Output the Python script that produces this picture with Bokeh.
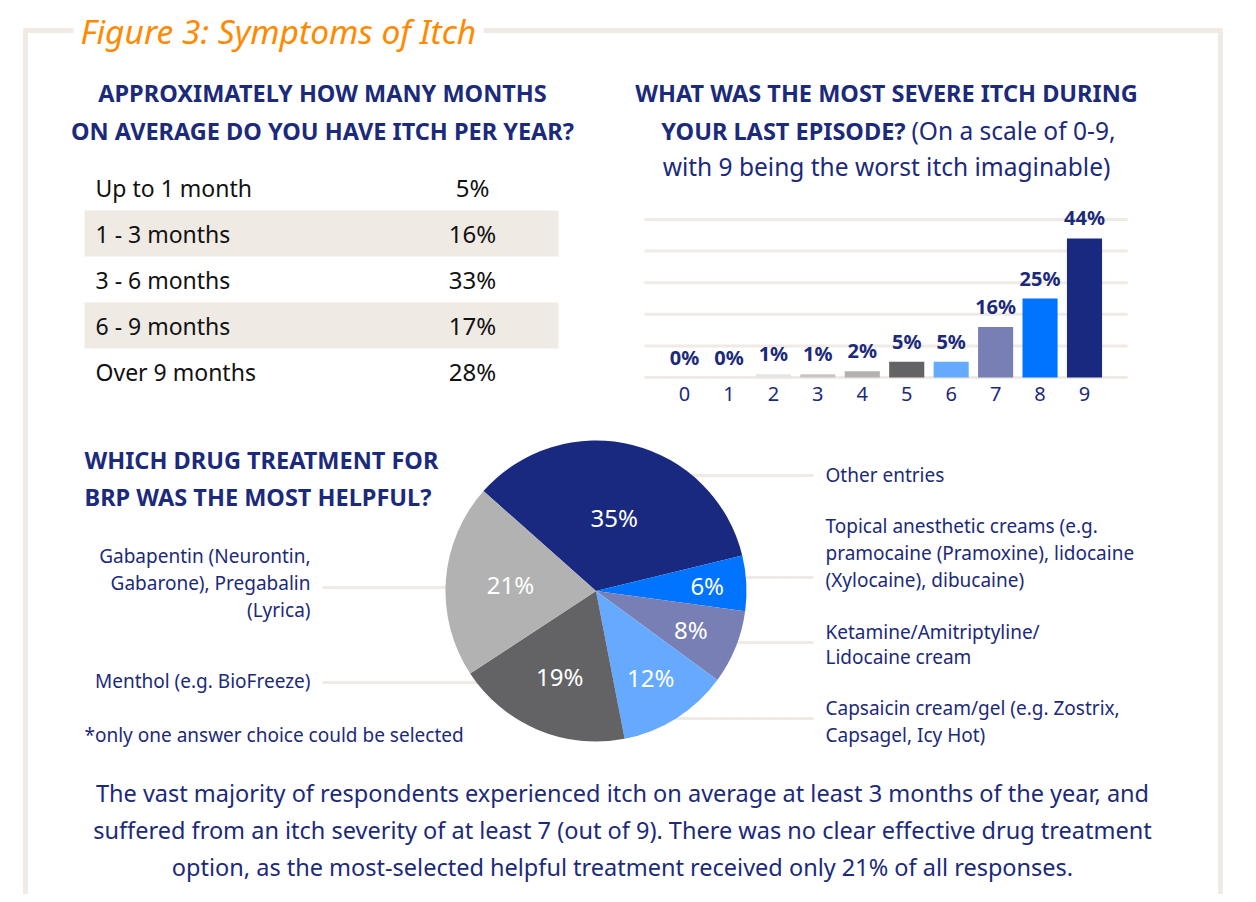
import math
from bokeh.plotting import figure
from bokeh.models import Range1d
from bokeh.embed import file_html
from bokeh.resources import INLINE
from bokeh.core.properties import value

# ---------------- data ----------------
month_labels = ["Up to 1 month", "1 - 3 months", "3 - 6 months", "6 - 9 months", "Over 9 months"]
month_pct = [5, 16, 33, 17, 28]

severity_levels = [0, 1, 2, 3, 4, 5, 6, 7, 8, 9]
severity_pct = [0, 0, 1, 1, 2, 5, 5, 16, 25, 44]

drug_names = [
    ["Other entries"],
    ["Topical anesthetic creams (e.g.", "pramocaine (Pramoxine), lidocaine", "(Xylocaine), dibucaine)"],
    ["Ketamine/Amitriptyline/", "Lidocaine cream"],
    ["Capsaicin cream/gel (e.g. Zostrix,", "Capsagel, Icy Hot)"],
    ["Menthol (e.g. BioFreeze)"],
    ["Gabapentin (Neurontin,", "Gabarone), Pregabalin", "(Lyrica)"],
]
drug_pct = [35, 6, 8, 12, 19, 21]

title_text = "Figure 3: Symptoms of Itch"
q1_lines = ["APPROXIMATELY HOW MANY MONTHS", "ON AVERAGE DO YOU HAVE ITCH PER YEAR?"]
q2_line1 = "WHAT WAS THE MOST SEVERE ITCH DURING"
q2_line2_bold = "YOUR LAST EPISODE?"
q2_line2_reg = "(On a scale of 0-9,"
q2_line3 = "with 9 being the worst itch imaginable)"
q3_lines = ["WHICH DRUG TREATMENT FOR", "BRP WAS THE MOST HELPFUL?"]
note_text = "*only one answer choice could be selected"
footer_lines = [
    "The vast majority of respondents experienced itch on average at least 3 months of the year, and",
    "suffered from an itch severity of at least 7 (out of 9). There was no clear effective drug treatment",
    "option, as the most-selected helpful treatment received only 21% of all responses.",
]

# ---------------- styles ----------------
NAVY = "#1b2a7b"
ORANGE = "#ff8a00"
BEIGE = "#f0eae5"
FONT = value("Noto Sans")
bar_colors = ["#e6e6e6", "#e6e6e6", "#e4e4e4", "#c6c6c6", "#b2b2b2", "#636366",
              "#66aaff", "#787fb4", "#0073ff", "#1a2980"]
pie_colors = ["#1a2980", "#0073ff", "#787fb4", "#66aaff", "#636366", "#b2b2b2"]
pie_label_r = [0.50, 0.74, 0.68, 0.68, 0.62, 0.57]

W, H = 1240, 894


def X(px):
    return px


def Y(py):
    return H - py


def lin_range(a_px, a_val, b_px, b_val, lo_px, hi_px):
    s = (b_val - a_val) / (b_px - a_px)
    return Range1d(start=a_val + (lo_px - a_px) * s, end=a_val + (hi_px - a_px) * s)


p = figure(width=W, height=H, x_range=Range1d(0, W), y_range=Range1d(0, H),
           output_backend="svg", toolbar_location=None, min_border=0,
           x_axis_type=None, y_axis_type=None)
p.grid.visible = False
p.outline_line_color = None
p.background_fill_color = "white"
p.border_fill_color = "white"


def txt(x, y, s, size, color=NAVY, style="normal", align="left", baseline="middle", **kw):
    p.text(x=[x], y=[y], text=[s], text_font=FONT, text_font_size=f"{size}px",
           text_font_style=style, text_color=color, text_align=align,
           text_baseline=baseline, **kw)


# ---------------- frame ----------------
p.segment(x0=[X(25), X(23), X(483), X(1220)], y0=[Y(30), Y(30), Y(30), Y(30)],
          x1=[X(25), X(73), X(1222), X(1220)], y1=[Y(910), Y(30), Y(30), Y(910)],
          line_color=BEIGE, line_width=5)
txt(X(80), Y(30), title_text, 33.5, color=ORANGE, style="italic")

# ---------------- table ----------------
p.extra_y_ranges["table"] = lin_range(Y(187), 0, Y(233), 1, 0, H)
rows = list(range(len(month_labels)))
shade = [r for r in rows if r % 2 == 1]
p.rect(x=[X(321)] * len(shade), y=shade, width=474, height=1.0,
       fill_color=BEIGE, line_color=None, y_range_name="table")
p.text(x=[X(95)] * len(rows), y=rows, text=month_labels, text_font=FONT,
       text_font_size="23px", text_color="#111111", text_baseline="middle",
       y_range_name="table")
p.text(x=[X(472)] * len(rows), y=rows, text=[f"{v}%" for v in month_pct],
       text_font=FONT, text_font_size="24px", text_color="#111111",
       text_baseline="middle", text_align="center", y_range_name="table")
for i, s in enumerate(q1_lines):
    txt(X(322), Y(92 + 38 * i), s, 23.5, style="bold", align="center")

# ---------------- bar chart ----------------
p.extra_x_ranges["bars"] = lin_range(X(684), 0, X(1084), 9, 0, W)
p.extra_y_ranges["bars"] = lin_range(Y(377), 0, Y(219), 50, 0, H)
grid_vals = [0, 10, 20, 30, 40, 50]
p.segment(x0=[-0.9] * len(grid_vals), x1=[9.97] * len(grid_vals), y0=grid_vals, y1=grid_vals,
          line_color=BEIGE, line_width=3, x_range_name="bars", y_range_name="bars")
p.vbar(x=severity_levels, top=severity_pct, bottom=0, width=0.79, fill_color=bar_colors,
       line_color=None, x_range_name="bars", y_range_name="bars")
p.text(x=severity_levels, y=severity_pct, text=[f"{v}%" for v in severity_pct],
       text_font=FONT, text_font_size="20px", text_font_style="bold", text_color=NAVY,
       text_align="center", text_baseline="bottom", y_offset=-7,
       x_range_name="bars", y_range_name="bars")
p.text(x=severity_levels, y=[0] * len(severity_levels), text=[str(v) for v in severity_levels],
       text_font=FONT, text_font_size="20px", text_color=NAVY,
       text_align="center", text_baseline="middle", y_offset=16,
       x_range_name="bars", y_range_name="bars")
txt(X(886), Y(92), q2_line1, 23.5, style="bold", align="center")
txt(X(905), Y(130), q2_line2_bold, 23.5, style="bold", align="right")
txt(X(911), Y(130), q2_line2_reg, 24.5, align="left")
txt(X(886), Y(166), q2_line3, 24.5, align="center")

# ---------------- pie chart ----------------
cx, cy, R = X(595.5), Y(590.5), 150.5
total = sum(drug_pct)
theta0 = math.radians(138.4)
k = 2 * math.pi / total
starts, ends, mids = [], [], []
cum = 0
for v in drug_pct:
    ends.append(theta0 - cum * k)
    starts.append(theta0 - (cum + v) * k)
    mids.append(theta0 - (cum + v / 2) * k)
    cum += v

# leader lines (behind the pie)
right_line_y = [475, 577, 642, 718]
left_line_y = [682, 587]
p.segment(x0=[cx] * 4, x1=[X(813)] * 4, y0=[Y(v) for v in right_line_y],
          y1=[Y(v) for v in right_line_y], line_color=BEIGE, line_width=3)
p.segment(x0=[X(322)] * 2, x1=[cx] * 2, y0=[Y(v) for v in left_line_y],
          y1=[Y(v) for v in left_line_y], line_color=BEIGE, line_width=3)

p.wedge(x=[cx] * len(drug_pct), y=[cy] * len(drug_pct), radius=R, radius_units="screen",
        start_angle=starts, end_angle=ends, fill_color=pie_colors, line_color=None)
p.text(x=[cx] * len(drug_pct), y=[cy] * len(drug_pct), text=[f"{v}%" for v in drug_pct],
       x_offset=[R * f * math.cos(m) for f, m in zip(pie_label_r, mids)],
       y_offset=[-R * f * math.sin(m) for f, m in zip(pie_label_r, mids)],
       text_font=FONT, text_font_size="24px", text_color="white",
       text_align="center", text_baseline="middle")

# right-hand labels
right_text_y = [[474], [525, 552, 579], [631, 656], [707, 734]]
for lines, ys in zip(drug_names[:4], right_text_y):
    for s, yy in zip(lines, ys):
        txt(X(825), Y(yy), s, 19)
# left-hand labels
left_text_y = [[680], [555, 582, 609]]
for lines, ys in zip(drug_names[4:], left_text_y):
    for s, yy in zip(lines, ys):
        txt(X(310), Y(yy), s, 19, align="right")

for i, s in enumerate(q3_lines):
    txt(X(84), Y(459 + 37 * i), s, 23.5, style="bold")
txt(X(84), Y(734), note_text, 19)

# ---------------- footer ----------------
for i, s in enumerate(footer_lines):
    txt(X(622), Y(792 + 37 * i), s, 23.5, align="center")

open("out.html", "w").write(file_html(p, INLINE))
